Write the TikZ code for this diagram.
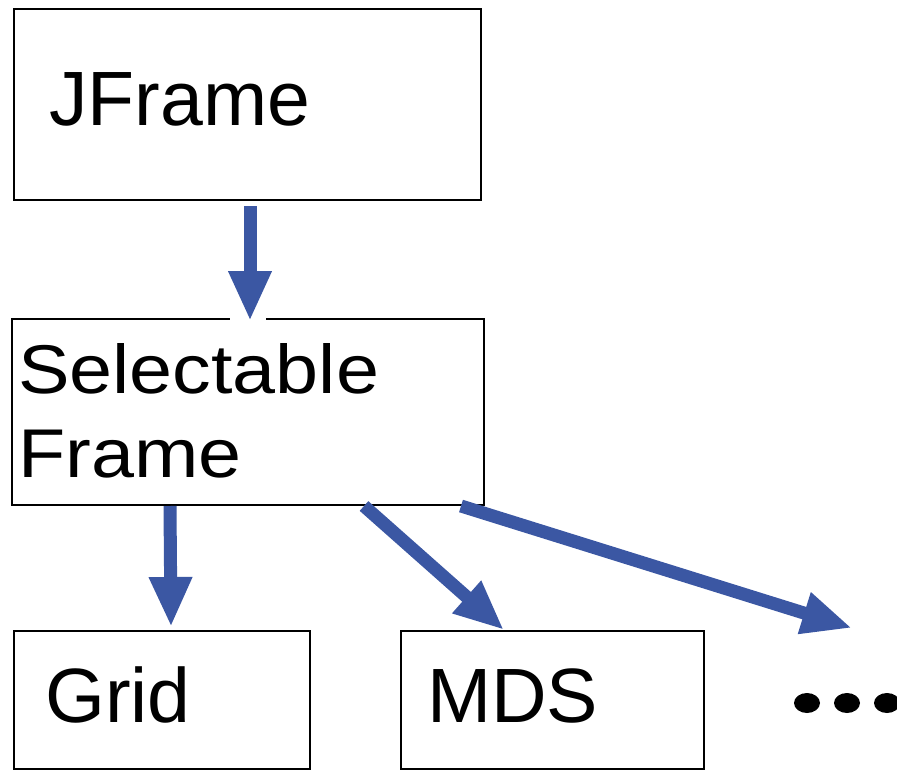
\documentclass[tikz,border=0pt]{standalone}
\usepackage{fontspec}
\setmainfont{Liberation Sans}
\newfontfamily\widesans[FakeStretch=1.12]{Liberation Sans}
\usetikzlibrary{arrows.meta,shapes.geometric}
\definecolor{arrowblue}{RGB}{59,87,163}
\tikzset{
  box/.style={draw=black, line width=2pt, fill=none, inner sep=0pt, anchor=center},
  label/.style={anchor=base west, inner sep=0pt, font=\fontsize{77}{84}\selectfont},
  widelabel/.style={anchor=base west, inner sep=0pt, align=left,
    font=\widesans\fontsize{69}{84}\selectfont},
  inherit/.style={draw=arrowblue, line width=13pt,
    -{Triangle[length=50pt,width=40pt]}},
  dotmark/.style={ellipse, fill=black, inner sep=0pt, minimum width=26pt, minimum height=20pt}
}
\begin{document}
\begin{tikzpicture}[x=1pt,y=-1pt]
  \useasboundingbox (0,0) rectangle (897,771);
  \clip (0,0) rectangle (897,771);

  % class boxes
  \node[box, minimum width=467pt, minimum height=191pt] (jf)   at (247.5,104.5) {};
  \node[box, minimum width=472pt, minimum height=186pt] (sf)   at (248,412) {};
  \node[box, minimum width=296pt, minimum height=138pt] (grid) at (162,700) {};
  \node[box, minimum width=303pt, minimum height=138pt] (mds)  at (552.5,700) {};

  % class names (the two-line label is anchored at its last baseline)
  \node[label] (tjf) at (49,125) {JFrame};
  \node[widelabel] (tsf) at (18,477) {Selectable\\Frame};
  \node[label] (tgrid) at (45,722) {Grid};
  \node[label] (tmds) at (427,722) {MDS};

  % further subclasses
  \node[dotmark] (d1) at (807,703) {};
  \node[dotmark] (d2) at (847,703) {};
  \node[dotmark] (d3) at (887,703) {};
  \coordinate (more) at (852,628);

  % break in the border where the first arrow enters
  \draw[white, line width=4pt] ([xshift=219pt]sf.north west) -- ([xshift=255pt]sf.north west);

  % inheritance arrows
  \draw[inherit] ([xshift=2.5pt,yshift=-5pt]jf.south) -- ([xshift=2pt,yshift=-3pt]sf.north);
  \draw[inherit] ([xshift=159pt]sf.south west) -- ([xshift=9pt,yshift=3pt]grid.north);
  \draw[inherit] ([xshift=353pt]sf.south west) -- ([xshift=104pt]mds.north west);
  \draw[inherit] ([xshift=450pt]sf.south west) -- (more);
\end{tikzpicture}
\end{document}
